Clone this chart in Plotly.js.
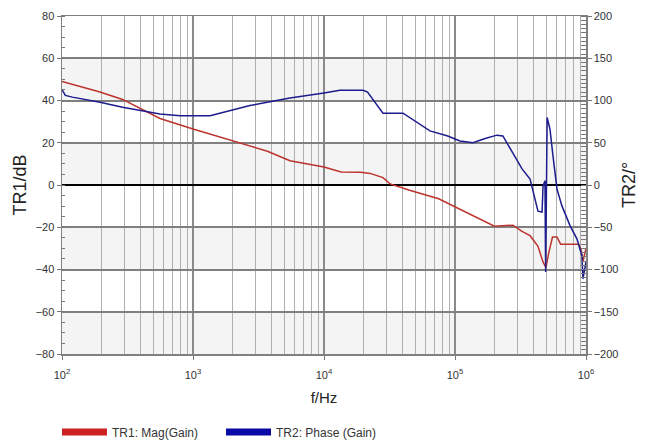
<!DOCTYPE html>
<html>
<head>
<meta charset="utf-8">
<script src="https://cdn.plot.ly/plotly-3.0.1.min.js"></script>
<style>
html,body{margin:0;padding:0;background:#fff;}
#chart{width:655px;height:442px;}
</style>
</head>
<body>
<div id="chart"></div>
<script>
// ---- data ----
const magFreq = [100, 195, 290, 390, 560, 1000, 2720, 3700, 5500, 10000, 13500, 19000, 22500, 28200, 32000,
  45000, 75000, 127000, 200000, 277000, 325000, 374000, 430000, 470000, 495000, 520000, 555000, 600000,
  640000, 880000, 920000, 950000, 1000000];
const magDb = [49, 44, 40.5, 36.5, 31.5, 26.5, 18.5, 16, 11.5, 8.5, 6.2, 6, 5.5, 3.5, 0.5,
  -2.5, -6.5, -13.5, -19.5, -19, -22, -24, -29, -36.5, -39, -32, -24.6, -24.6,
  -28, -28, -31, -36, -30];

const phaseFreq = [100, 106, 120, 195, 290, 560, 800, 1000, 1350, 2720, 5500, 10000, 13200, 19900, 21500,
  28200, 40100, 64400, 88000, 109000, 137000, 170000, 209000, 232000, 277000, 325000, 374000, 394000,
  430000, 462000, 470000, 486000, 492000, 505000, 531000, 560000, 601000, 656000, 755000, 854000,
  931000, 948000, 1000000];
const phaseDeg = [113, 106, 104, 98, 92, 84, 82, 82, 82, 94, 103, 109, 112, 112, 110,
  85, 85, 64, 58, 52, 50, 55, 59, 58, 37, 19, 7, -8,
  -31, -32, -1, 5, -103, 80, 66, 34, -5, -25, -48, -64,
  -84, -111, -91];

const xTickVals = [1e2, 1e3, 1e4, 1e5, 1e6];
const xTickText = ['10<sup>2</sup>', '10<sup>3</sup>', '10<sup>4</sup>', '10<sup>5</sup>', '10<sup>6</sup>'];
const magName = 'TR1: Mag(Gain)';
const phaseName = 'TR2: Phase (Gain)';

// ---- styling ----
const redLine = '#bb332c', blueLine = '#1c1c8e';
const redSwatch = '#cc2222', blueSwatch = '#0a0aa6';
const font = 'Liberation Sans, Arial, sans-serif';

// alternating bands of the plot background
const shapes = [];
for (let y0 = -80; y0 < 80; y0 += 20) {
  if (((y0 + 80) / 20) % 2 === 0) {
    shapes.push({type: 'rect', xref: 'paper', yref: 'y', x0: 0, x1: 1, y0: y0, y1: y0 + 20,
      fillcolor: '#f4f4f4', line: {width: 0}, layer: 'below'});
  }
}

const traces = [
  {x: magFreq, y: magDb, type: 'scatter', mode: 'lines', line: {color: redLine, width: 1.5},
   showlegend: false, hoverinfo: 'skip'},
  {x: phaseFreq, y: phaseDeg, type: 'scatter', mode: 'lines', yaxis: 'y2', line: {color: blueLine, width: 1.5},
   showlegend: false, hoverinfo: 'skip'},
  {x: [null], y: [null], type: 'scatter', mode: 'lines', name: magName, line: {color: redSwatch, width: 7}},
  {x: [null], y: [null], type: 'scatter', mode: 'lines', name: phaseName, yaxis: 'y2', line: {color: blueSwatch, width: 7}}
];

const layout = {
  width: 655, height: 442,
  margin: {l: 62, r: 69, t: 16, b: 88, pad: 0},
  paper_bgcolor: '#ffffff', plot_bgcolor: '#ffffff',
  font: {family: font, size: 11, color: '#333'},
  shapes: shapes,
  showlegend: true,
  legend: {orientation: 'h', xref: 'container', yref: 'container',
    x: 57 / 655, xanchor: 'left', y: 1 - 432 / 442, yanchor: 'middle',
    entrywidth: 104, entrywidthmode: 'pixels',
    font: {family: font, size: 12, color: '#333'}, itemwidth: 45, bgcolor: 'rgba(0,0,0,0)'},
  xaxis: {
    type: 'log', range: [2, 6],
    tickvals: xTickVals, ticktext: xTickText,
    ticks: 'outside', ticklen: 4, tickcolor: '#777', ticklabelstandoff: 6,
    showgrid: true, gridcolor: '#8a8a8a', gridwidth: 1.5,
    minor: {dtick: 'D1', showgrid: true, gridcolor: '#b0b0b0', gridwidth: 1, ticks: ''},
    showline: true, linecolor: '#808080', linewidth: 1.5, mirror: true,
    zeroline: false,
    tickfont: {size: 11, color: '#333'},
    title: {text: 'f/Hz', font: {size: 15, color: '#222'}, standoff: 13}
  },
  yaxis: {
    range: [-80, 80], dtick: 20, tick0: 0,
    ticks: 'outside', ticklen: 4, tickcolor: '#777',
    minor: {dtick: 5, ticks: 'inside', ticklen: 3, tickcolor: '#777', showgrid: false},
    showgrid: true, gridcolor: '#808080', gridwidth: 2,
    zeroline: true, zerolinecolor: '#000', zerolinewidth: 2,
    showline: true, linecolor: '#808080', linewidth: 1.5,
    tickfont: {size: 11, color: '#333'},
    title: {text: 'TR1/dB', font: {size: 18, color: '#222'}, standoff: 4}
  },
  yaxis2: {
    overlaying: 'y', side: 'right',
    range: [-200, 200], dtick: 50, tick0: 0,
    ticks: 'outside', ticklen: 4, tickcolor: '#777',
    minor: {dtick: 5, ticks: 'inside', ticklen: 5, tickcolor: '#777', showgrid: false},
    showgrid: false, zeroline: false,
    showline: true, linecolor: '#808080', linewidth: 1.5,
    tickfont: {size: 11, color: '#333'},
    title: {text: 'TR2/°', font: {size: 18, color: '#222'}, standoff: 5}
  }
};

Plotly.newPlot('chart', traces, layout, {staticPlot: true, displayModeBar: false});
</script>
</body>
</html>
